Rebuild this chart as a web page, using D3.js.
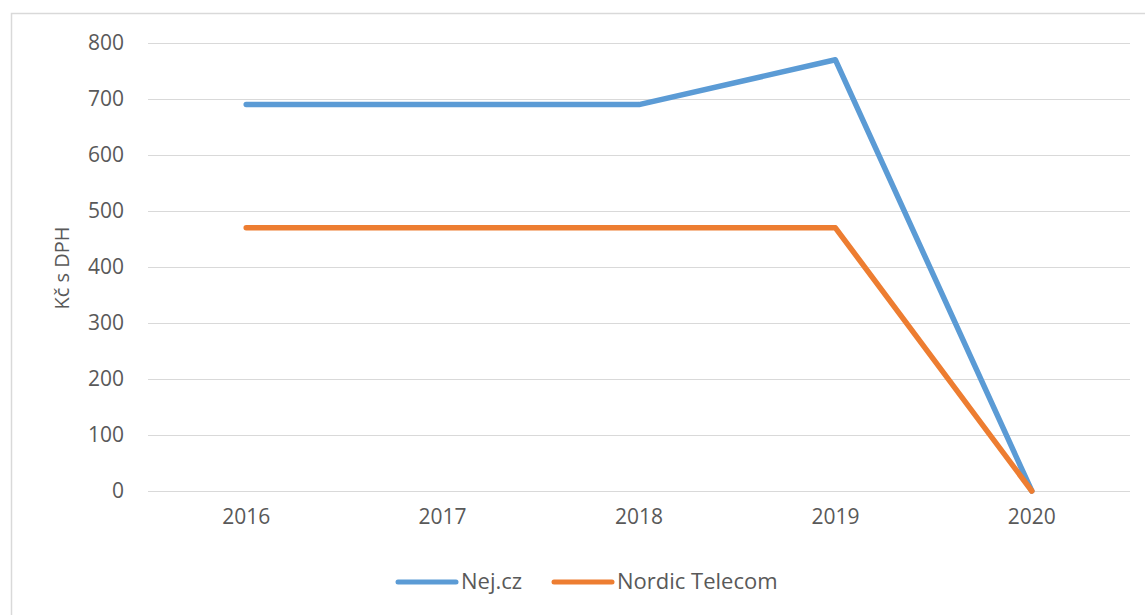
<!DOCTYPE html>
<html>
<head>
<meta charset="utf-8">
<script src="https://cdn.jsdelivr.net/npm/d3@7"></script>
<style>
  body { margin: 0; background: #fff; }
  text { font-family: "Open Sans", sans-serif; fill: #595959; }
</style>
</head>
<body>
<script>
// categories and series values
var years = ["2016", "2017", "2018", "2019", "2020"];
var nejValues = [690, 690, 690, 770, 0];
var nordicValues = [470, 470, 470, 470, 0];
var yTicks = [0, 100, 200, 300, 400, 500, 600, 700, 800];
var seriesNames = ["Nej.cz", "Nordic Telecom"];
var seriesColors = ["#5b9bd5", "#ed7d31"];

var width = 1145;
var height = 615;

var svg = d3.select("body")
            .append("svg")
            .attr("width", width)
            .attr("height", height);

// chart frame, runs off the right and bottom edge
svg.append("rect")
   .attr("x", 11.5)
   .attr("y", 13.5)
   .attr("width", 1200)
   .attr("height", 700)
   .attr("fill", "none")
   .attr("stroke", "#d9d9d9")
   .attr("stroke-width", 1.5);

var plotLeft = 148, plotRight = 1130, plotTop = 43, plotBottom = 491;

var xScale = d3.scaleBand()
               .domain(years)
               .range([plotLeft, plotRight]);

var yScale = d3.scaleLinear()
               .domain([0, 800])
               .range([plotBottom, plotTop]);

// gridlines
svg.selectAll("line.grid")
   .data(yTicks)
   .enter()
   .append("line")
   .attr("class", "grid")
   .attr("x1", plotLeft)
   .attr("x2", plotRight)
   .attr("y1", function(d){ return Math.round(yScale(d)) + 0.5; })
   .attr("y2", function(d){ return Math.round(yScale(d)) + 0.5; })
   .attr("stroke", "#d9d9d9")
   .attr("stroke-width", 1);

// y axis
var yAxis = d3.axisLeft(yScale)
              .tickValues(yTicks)
              .tickSize(0)
              .tickPadding(0);

var gy = svg.append("g")
            .attr("transform", "translate(124,0)")
            .call(yAxis);
gy.select(".domain").remove();
gy.selectAll("text")
  .style("font-size", "21px")
  .style("font-family", "Open Sans, sans-serif")
  .attr("fill", "#595959");

// x axis
var xAxis = d3.axisBottom(xScale)
              .tickSize(0)
              .tickPadding(0);

var gx = svg.append("g")
            .attr("transform", "translate(0," + 509 + ")")
            .call(xAxis);
gx.select(".domain").remove();
gx.selectAll("text")
  .style("font-size", "21px")
  .style("font-family", "Open Sans, sans-serif")
  .attr("fill", "#595959");

// y axis title
svg.append("text")
   .attr("text-anchor", "middle")
   .attr("transform", "translate(69,268)rotate(-90)")
   .style("font-size", "20px")
   .text("Kč s DPH");

// lines
var line = d3.line()
             .x(function(d, i){ return xScale(years[i]) + xScale.bandwidth() / 2; })
             .y(function(d){ return yScale(d); });

[nejValues, nordicValues].forEach(function(values, k){
  svg.append("path")
     .datum(values)
     .attr("d", line)
     .attr("fill", "none")
     .attr("stroke", seriesColors[k])
     .attr("stroke-width", 5.5)
     .attr("stroke-linejoin", "round")
     .attr("stroke-linecap", "round");
});

// legend
var legendX = [398, 554];
seriesNames.forEach(function(name, k){
  svg.append("line")
     .attr("x1", legendX[k])
     .attr("x2", legendX[k] + 58)
     .attr("y1", 582)
     .attr("y2", 582)
     .attr("stroke", seriesColors[k])
     .attr("stroke-width", 5)
     .attr("stroke-linecap", "round");
  svg.append("text")
     .attr("x", legendX[k] + 63)
     .attr("y", 589)
     .style("font-size", "22px")
     .text(name);
});
</script>
</body>
</html>
